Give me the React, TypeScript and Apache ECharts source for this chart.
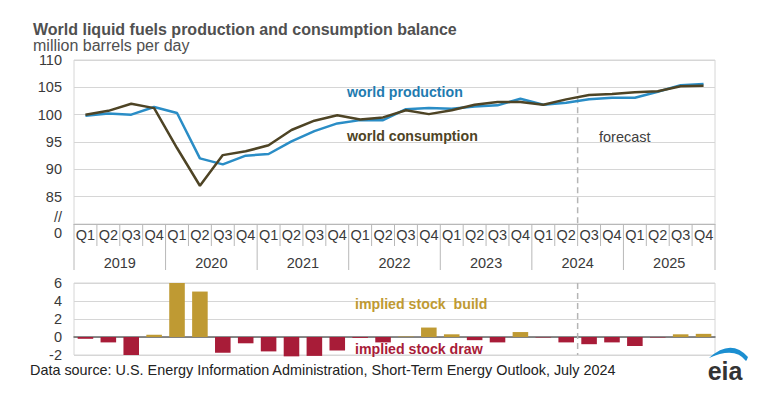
import React, { useEffect, useRef } from "react";
import * as echarts from "echarts";

const years = ["2019", "2020", "2021", "2022", "2023", "2024", "2025"];
const quarters = ["Q1", "Q2", "Q3", "Q4"];
const categories = years.flatMap((y) => quarters.map((q) => `${q} ${y}`));

// million barrels per day
const production = [
  99.8, 100.2, 100.0, 101.4, 100.3, 92.0, 90.9, 92.5,
  92.8, 95.1, 97.0, 98.4, 99.0, 99.0, 101.0, 101.2,
  101.1, 101.5, 101.7, 102.9, 101.8, 102.2, 102.8, 103.1,
  103.1, 104.2, 105.4, 105.6,
];
const consumption = [
  100.0, 100.7, 102.0, 101.2, 93.9, 87.0, 92.6, 93.3,
  94.4, 97.2, 98.9, 99.9, 99.1, 99.5, 100.8, 100.1,
  100.8, 101.8, 102.3, 102.3, 101.8, 102.8, 103.6, 103.8,
  104.1, 104.3, 105.2, 105.3,
];
// implied stock build (+) / draw (-)
const stockChange = [
  -0.2, -0.6, -2.0, 0.25, 6.0, 5.05, -1.75, -0.7,
  -1.6, -2.15, -2.1, -1.5, -0.1, -0.6, 0.05, 1.05,
  0.3, -0.35, -0.6, 0.55, -0.05, -0.6, -0.8, -0.6,
  -1.0, -0.05, 0.3, 0.35,
];
const forecastStartIndex = 22;

const FONT = "'Liberation Sans', Arial, sans-serif";
const BLUE = "#2a8dc6";
const BROWN = "#4e4425";
const GOLD = "#bf9a33";
const CRIMSON = "#a81c38";
const GRID = "#d6d6d6";
const TICK = "#b8b8b8";
const TXT = "#3a3a3a";

export default function App() {
  const ref = useRef<HTMLDivElement>(null);
  useEffect(() => {
    if (!ref.current) return;
    const chart = echarts.init(ref.current, undefined, { renderer: "svg" });
    chart.setOption({
      animation: false,
      textStyle: { fontFamily: FONT },
      grid: [
        { left: 74, right: 64, top: 60, height: 164, show: true, borderColor: GRID, borderWidth: 1 },
        { left: 74, right: 64, top: 283, height: 72, show: true, borderColor: GRID, borderWidth: 1 },
      ],
      xAxis: [
        {
          type: "category", gridIndex: 0, data: categories, position: "bottom",
          axisLine: { show: true, lineStyle: { color: TICK } },
          axisTick: { show: false },
          axisLabel: { interval: 0, margin: 3, fontSize: 14.5, color: TXT, fontFamily: FONT,
            formatter: (v: string) => v.split(" ")[0] },
          splitLine: { show: false },
        },
        {
          type: "category", gridIndex: 0, data: years, position: "bottom",
          axisLine: { show: false },
          axisTick: { show: false },
          axisLabel: { interval: 0, margin: 31, fontSize: 14.5, color: TXT, fontFamily: FONT },
          splitLine: { show: false },
        },
        {
          type: "category", gridIndex: 1, data: categories,
          axisLine: { onZero: true, lineStyle: { color: "#666666", width: 1.5 } },
          axisTick: { show: false },
          axisLabel: { show: false },
          splitLine: { show: false },
        },
      ],
      yAxis: [
        {
          type: "value", gridIndex: 0, min: 80, max: 110, interval: 5,
          axisLine: { show: false }, axisTick: { show: false },
          axisLabel: { margin: 12, fontSize: 14.5, color: TXT, fontFamily: FONT,
            formatter: (v: number) => (v === 80 ? "" : String(v)) },
          splitLine: { lineStyle: { color: GRID } },
        },
        {
          type: "value", gridIndex: 1, min: -2, max: 6, interval: 2,
          axisLine: { show: false }, axisTick: { show: false },
          axisLabel: { margin: 12, fontSize: 14.5, lineHeight: 13, color: TXT, fontFamily: FONT },
          splitLine: { lineStyle: { color: GRID } },
        },
      ],
      series: [
        {
          name: "world production", type: "line", xAxisIndex: 0, yAxisIndex: 0,
          data: production, symbol: "none", lineStyle: { color: BLUE, width: 2.5 },
          itemStyle: { color: BLUE }, z: 3,
        },
        {
          name: "world consumption", type: "line", xAxisIndex: 0, yAxisIndex: 0,
          data: consumption, symbol: "none", lineStyle: { color: BROWN, width: 2.5 },
          itemStyle: { color: BROWN }, z: 4,
        },
        {
          name: "implied stock change", type: "bar", xAxisIndex: 2, yAxisIndex: 1,
          data: stockChange, barWidth: "68%", clip: false,
          itemStyle: { color: (p: any) => (p.value >= 0 ? GOLD : CRIMSON) },
        },
      ],
    });

    const xA = chart.convertToPixel({ xAxisIndex: 0 }, categories[forecastStartIndex - 1]) as number;
    const xB = chart.convertToPixel({ xAxisIndex: 0 }, categories[forecastStartIndex]) as number;
    const fx = (xA + xB) / 2;
    const topY1 = chart.convertToPixel({ yAxisIndex: 0 }, 105) as number;
    const topY2 = chart.convertToPixel({ yAxisIndex: 0 }, 80) as number;
    const botY1 = chart.convertToPixel({ yAxisIndex: 1 }, 6) as number;
    const botY2 = chart.convertToPixel({ yAxisIndex: 1 }, -2) as number;

    // category boundaries for the quarter / year separator ticks
    const x0 = chart.convertToPixel({ xAxisIndex: 0 }, categories[0]) as number;
    const x1 = chart.convertToPixel({ xAxisIndex: 0 }, categories[1]) as number;
    const step = x1 - x0;
    const sepLines: any[] = [];
    for (let i = 0; i <= categories.length; i++) {
      const bx = x0 - step / 2 + i * step;
      const isYear = i % 4 === 0;
      sepLines.push({
        type: "line", silent: true, z: 1,
        shape: { x1: bx, y1: topY2, x2: bx, y2: topY2 + (isYear ? 46 : 22) },
        style: { stroke: TICK, lineWidth: 1 },
      });
    }

    echarts.graphic.registerShape(
      "eiaswoosh",
      echarts.graphic.extendPath("M0 13 Q22 -7 39 12 Q38 15 37 16 Q26 1 0 13 Z", {})
    );

    const dash = { stroke: "#b5b5b5", lineWidth: 1.5, lineDash: [6, 4] };
    const txt = (x: number, y: number, text: string, fill: string, weight: string, size = 14, align = "left", lh?: number) => ({
      type: "text", x, y, silent: true, z: 10,
      style: { text, fill, fontSize: size, fontWeight: weight, fontFamily: FONT, textAlign: align, textVerticalAlign: "middle", lineHeight: lh },
    });

    chart.setOption({
      graphic: [
        ...sepLines,
        { type: "line", shape: { x1: fx, y1: topY1, x2: fx, y2: topY2 }, style: dash, z: 2, silent: true },
        { type: "line", shape: { x1: fx, y1: botY1, x2: fx, y2: botY2 }, style: dash, z: 2, silent: true },
        txt(33, 29, "World liquid fuels production and consumption balance", "#505050", "bold", 16),
        txt(33, 45, "million barrels per day", "#505050", "normal", 16),
        txt(62, 217, "//", TXT, "normal", 14.5, "right"),
        txt(62, 233, "0", TXT, "normal", 14.5, "right"),
        txt(347, 92, "world production", "#1f7bb0", "bold", 14.2),
        txt(347, 136, "world consumption", BROWN, "bold", 14.2),
        txt(599, 137, "forecast", "#404040", "normal", 14.5),
        txt(355, 304, "implied stock  build", GOLD, "bold", 14.2),
        txt(355, 349, "implied stock draw", CRIMSON, "bold", 14.2, "left", 13),
        txt(30, 370, "Data source: U.S. Energy Information Administration, Short-Term Energy Outlook, July 2024", "#222222", "normal", 14.4, "left", 13),
        txt(725, 371, "eia", "#333333", "bold", 25, "center"),
        { type: "eiaswoosh", x: 709, y: 345, style: { fill: "#1c8fd1" }, silent: true, z: 10 },
      ],
    });

    return () => chart.dispose();
  }, []);
  return (
    <div
      ref={ref}
      style={{ position: "fixed", left: 0, top: 0, width: 779, height: 396, background: "#ffffff" }}
    />
  );
}
